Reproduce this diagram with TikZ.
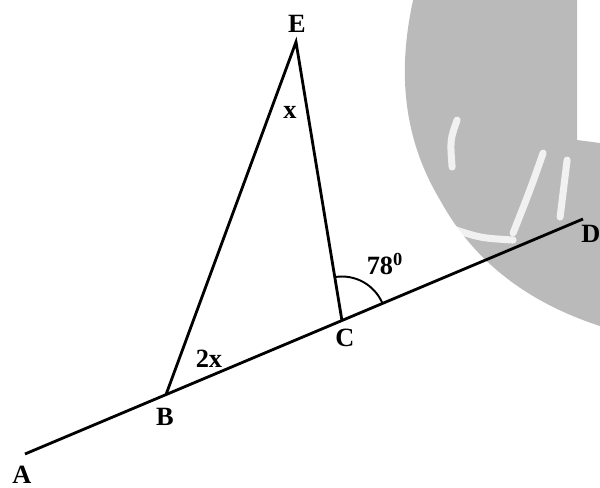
\documentclass[tikz,border=0pt]{standalone}
\usepackage{fontspec}
\setmainfont{Liberation Serif}
\usetikzlibrary{angles,calc}
\begin{document}
\begin{tikzpicture}[line width=1.6pt, lbl/.style={font=\fontsize{15}{18}\selectfont\bfseries}]
\useasboundingbox (0,0) rectangle (12,9.76);
% gray scanned blob behind the figure
\begin{scope}[x=0.02cm, y=-0.02cm, yshift=9.76cm]
\fill[black!27] (577,0) -- (413,0) .. controls (400,60) and (398,130) .. (440,200)
  .. controls (470,255) and (520,300) .. (600,326) -- (600,143) -- (577,140) -- cycle;
\draw[white, opacity=0.8, line width=4pt, line cap=round] (457,120) .. controls (450,140) .. (452,167);
\draw[white, opacity=0.8, line width=4pt, line cap=round] (543,153) .. controls (530,190) .. (513,233);
\draw[white, opacity=0.8, line width=4pt, line cap=round] (567,160) -- (560,217);
\draw[white, opacity=0.8, line width=4pt, line cap=round] (447,227) .. controls (480,238) .. (513,240);
\end{scope}
% points
\coordinate (A) at (0.5,0.68);
\coordinate (D) at (11.66,5.38);
\coordinate (B) at ($(A)!0.2527!(D)$);
\coordinate (C) at ($(A)!0.568!(D)$);
\coordinate (E) at (5.92,8.92);
\draw (A) -- (D);
\draw (B) -- (E) -- (C);
\pic[draw, line width=1.1pt, angle radius=0.88cm] {angle = D--C--E};
% labels
\node[lbl] (la) at (0.44,0.26) {A};
\node[lbl] (lb) at (3.3,1.42) {B};
\node[lbl] (lc) at (6.9,3.0) {C};
\node[lbl, anchor=west, inner sep=0pt] (ld) at (11.6,5.08) {D};
\node[lbl] (le) at (5.94,9.28) {E};
\node[lbl] (lx) at (5.8,7.52) {x};
\node[lbl] (l2x) at (4.18,2.58) {2x};
\node[lbl] (lang) at (7.7,4.48) {78\textsuperscript{0}};
\end{tikzpicture}
\end{document}
